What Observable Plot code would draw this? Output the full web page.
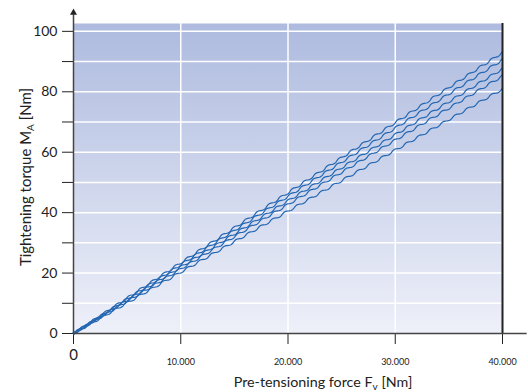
<!DOCTYPE html>
<html>
<head>
<meta charset="utf-8">
<script src="https://cdn.jsdelivr.net/npm/d3@7"></script>
<script src="https://cdn.jsdelivr.net/npm/@observablehq/plot@0.6"></script>
<style>
  html, body { margin: 0; padding: 0; background: #fff; }
  #chart svg { display: block; font-family: Lato, "Liberation Sans", sans-serif; }
  #chart svg [aria-label^="x-axis"] text { font-size: 9px; }
  #chart svg [aria-label^="y-axis"] text { font-size: 14px; }
</style>
</head>
<body>
<div id="chart"></div>
<script>
// Pre-tensioning force [N] sample positions
const force = [0, 10000, 20000, 30000, 40000];
// Tightening torque [Nm] for five curves
const curve1 = [0, 23.4, 46.6, 69.8, 93.0];
const curve2 = [0, 22.8, 45.4, 68.0, 90.6];
const curve3 = [0, 22.0, 43.9, 65.8, 87.6];
const curve4 = [0, 21.4, 42.7, 64.0, 85.2];
const curve5 = [0, 20.3, 40.5, 60.7, 80.9];
const seriesNames = ["c1", "c2", "c3", "c4", "c5"];
const seriesValues = [curve1, curve2, curve3, curve4, curve5];

const xTicks = [0, 10000, 20000, 30000, 40000];
const yTicks = [0, 10, 20, 30, 40, 50, 60, 70, 80, 90, 100];
const xGrid = [10000, 20000, 30000];
const yGrid = [10, 20, 30, 40, 50, 60, 70, 80, 90, 100];
const yMax = 102.6;

const data = seriesNames.flatMap((name, i) =>
  force.map((f, j) => ({series: name, force: f, torque: seriesValues[i][j]})));

// Wavy line style (rendering only); each line gets its own phase
let lineCount = 0;
function wavy(context) {
  let pts;
  return {
    areaStart() {}, areaEnd() {},
    lineStart() { pts = []; },
    point(x, y) { pts.push([+x, +y]); },
    lineEnd() {
      const P = 14, A = 1.0;
      const phase = (lineCount++ * 2.1) % (2 * Math.PI);
      let s = 0, first = true;
      for (let i = 0; i < pts.length - 1; i++) {
        const [x0, y0] = pts[i], [x1, y1] = pts[i + 1];
        const dx = x1 - x0, dy = y1 - y0, L = Math.hypot(dx, dy);
        if (!L) continue;
        const nx = -dy / L, ny = dx / L;
        const n = Math.ceil(L);
        for (let k = (first ? 0 : 1); k <= n; k++) {
          const t = k / n, ss = s + t * L;
          const o = A * Math.sin(2 * Math.PI * ss / P + phase);
          const px = x0 + dx * t + nx * o, py = y0 + dy * t + ny * o;
          if (first) { context.moveTo(px, py); first = false; }
          else context.lineTo(px, py);
        }
        s += L;
      }
    }
  };
}

const fmt = d => d === 0 ? "" : d3.format(",")(d).replace(/,/g, ".");

const plot = Plot.plot({
  width: 528,
  height: 392,
  marginLeft: 73,
  marginRight: 26,
  marginTop: 23,
  marginBottom: 59,
  style: {background: "transparent", color: "#222"},
  x: {domain: [0, 40000], ticks: xTicks, tickSize: 11, tickPadding: 14, tickFormat: fmt, label: null},
  y: {domain: [0, yMax], ticks: yTicks, tickSize: 11, tickPadding: 5,
      tickFormat: d => d % 20 === 0 ? String(d) : "", label: null},
  marks: [
    Plot.frame({fill: "url(#bggrad)", stroke: "none"}),
    Plot.ruleY(yGrid, {stroke: "#fff", strokeWidth: 1.5}),
    Plot.ruleX(xGrid, {stroke: "#fff", strokeWidth: 1.5}),
    Plot.line(data, {x: "force", y: "torque", z: "series", stroke: "#2366b2", strokeWidth: 1.2, curve: wavy}),
    Plot.ruleX([40000], {y1: 0, y2: yMax, stroke: "#222", strokeWidth: 2}),
    Plot.ruleX([0], {y1: 0, y2: 105.5, stroke: "#444", strokeWidth: 1.5}),
    Plot.ruleY([0], {x1: 0, x2: 42300, stroke: "#444", strokeWidth: 1.5}),
    Plot.dot([{x: 0, y: 106.2}], {x: "x", y: "y", symbol: "triangle", r: 2.6, fill: "#222", stroke: "none"}),
    Plot.dot([{x: 42650, y: 0}], {x: "x", y: "y", symbol: "triangle", rotate: 90, r: 2.6, fill: "#222", stroke: "none"}),
    Plot.text([0], {x: d => d, y: 0, text: d => "0", dy: 22, fontSize: 15, fill: "#222"})
  ]
});

// gradient definition for plot background
const svg = d3.select(plot);
const defs = svg.insert("defs", ":first-child");
const g = defs.append("linearGradient").attr("id", "bggrad")
  .attr("x1", 0).attr("y1", 0).attr("x2", 0).attr("y2", 1);
g.append("stop").attr("offset", "0%").attr("stop-color", "#aebbdf");
g.append("stop").attr("offset", "100%").attr("stop-color", "#eef0f9");

// axis titles with subscripts
const xt = svg.append("text").attr("x", 323).attr("y", 387).attr("text-anchor", "middle")
  .attr("font-size", 14.3).attr("fill", "#222");
xt.append("tspan").text("Pre-tensioning force F");
xt.append("tspan").attr("font-size", 10).attr("dy", 3).text("v");
xt.append("tspan").attr("dy", -3).text(" [Nm]");

const yt = svg.append("text").attr("transform", "translate(31,177) rotate(-90)")
  .attr("text-anchor", "middle").attr("font-size", 15).attr("fill", "#222");
yt.append("tspan").text("Tightening torque M");
yt.append("tspan").attr("font-size", 10).attr("dy", 3).text("A");
yt.append("tspan").attr("dy", -3).text(" [Nm]");

document.getElementById("chart").appendChild(plot);
</script>
</body>
</html>
